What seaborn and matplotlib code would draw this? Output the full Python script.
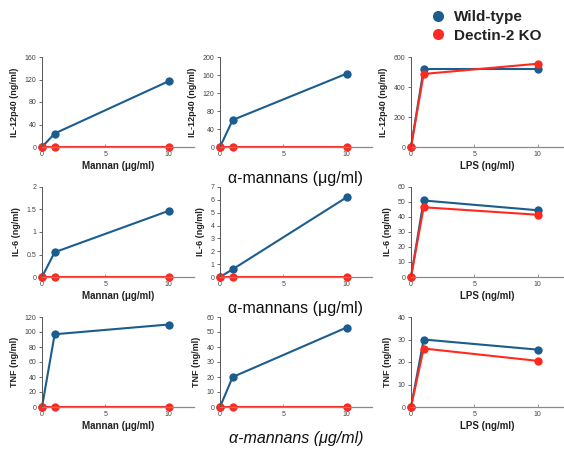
import matplotlib
matplotlib.use("Agg")
import matplotlib.pyplot as plt
from matplotlib.lines import Line2D
import seaborn as sns
import pandas as pd

sns.set_theme(style="ticks")
plt.rcParams["font.family"] = ["Liberation Sans", "DejaVu Sans"]

doses = [0, 1, 10]
genotypes = ["Wild-type", "Dectin-2 KO"]
colors = {"Wild-type": "#1b5d8e", "Dectin-2 KO": "#ff2a1f"}

# rows: IL-12p40, IL-6, TNF ; columns: Mannan, alpha-mannans, LPS
il12_mannan_wt = [0, 24, 117]
il12_mannan_ko = [0, 0, 0]
il12_amannan_wt = [0, 60, 163]
il12_amannan_ko = [0, 0, 0]
il12_lps_wt = [0, 520, 520]
il12_lps_ko = [0, 487, 555]

il6_mannan_wt = [0, 0.55, 1.47]
il6_mannan_ko = [0, 0, 0]
il6_amannan_wt = [0, 0.6, 6.2]
il6_amannan_ko = [0, 0, 0]
il6_lps_wt = [0, 51, 44.5]
il6_lps_ko = [0, 46.5, 41.5]

tnf_mannan_wt = [0, 97, 110]
tnf_mannan_ko = [0, 0, 0]
tnf_amannan_wt = [0, 20, 53]
tnf_amannan_ko = [0, 0, 0]
tnf_lps_wt = [0, 30, 25.5]
tnf_lps_ko = [0, 26, 20.5]

ylabels = ["IL-12p40 (ng/ml)", "IL-6 (ng/ml)", "TNF (ng/ml)"]
xlabels = ["Mannan (\u03bcg/ml)", "\u03b1-mannans (\u03bcg/ml)", "LPS (ng/ml)"]
x_ticks = [0, 5, 10]

yticks = [
    [[0, 40, 80, 120, 160], [0, 40, 80, 120, 160, 200], [0, 200, 400, 600]],
    [[0, 0.5, 1, 1.5, 2], [0, 1, 2, 3, 4, 5, 6, 7], [0, 10, 20, 30, 40, 50, 60]],
    [[0, 20, 40, 60, 80, 100, 120], [0, 10, 20, 30, 40, 50, 60], [0, 10, 20, 30, 40]],
]
ytick_labels = [
    [None, None, None],
    [["0", "0.5", "1", "1.5", "2"], None, None],
    [None, None, None],
]

series = [
    [(il12_mannan_wt, il12_mannan_ko), (il12_amannan_wt, il12_amannan_ko), (il12_lps_wt, il12_lps_ko)],
    [(il6_mannan_wt, il6_mannan_ko), (il6_amannan_wt, il6_amannan_ko), (il6_lps_wt, il6_lps_ko)],
    [(tnf_mannan_wt, tnf_mannan_ko), (tnf_amannan_wt, tnf_amannan_ko), (tnf_lps_wt, tnf_lps_ko)],
]

W, H = 564, 450
fig = plt.figure(figsize=(W / 100, H / 100), dpi=100)

col_left = [42, 220, 411]
row_top = [57, 187, 317]
ax_w, ax_h = 152, 90

for r in range(3):
    for c in range(3):
        left = col_left[c] / W
        bottom = 1 - (row_top[r] + ax_h) / H
        ax = fig.add_axes([left, bottom, ax_w / W, ax_h / H])
        wt, ko = series[r][c]
        df = pd.DataFrame({
            "dose": doses * 2,
            "value": list(wt) + list(ko),
            "genotype": ["Wild-type"] * 3 + ["Dectin-2 KO"] * 3,
        })
        sns.lineplot(data=df, x="dose", y="value", hue="genotype", hue_order=genotypes,
                     palette=colors, marker="o", markersize=6, markeredgewidth=0,
                     linewidth=1.5, errorbar=None, legend=False, ax=ax, clip_on=False)
        ax.set_xlim(0, 12)
        yt = yticks[r][c]
        ax.set_ylim(0, yt[-1])
        ax.set_yticks(yt)
        if ytick_labels[r][c] is not None:
            ax.set_yticklabels(ytick_labels[r][c])
        ax.set_xticks(x_ticks)
        sns.despine(ax=ax)
        ax.spines["left"].set_color("#555555")
        ax.spines["left"].set_linewidth(0.7)
        ax.spines["bottom"].set_color("#8a8a8a")
        ax.spines["bottom"].set_linewidth(0.9)
        ax.tick_params(axis="y", labelsize=5, colors="#555555", labelcolor="#444444",
                       length=2.5, width=0.6, pad=1.5)
        ax.tick_params(axis="x", labelsize=5, colors="#888888", labelcolor="#444444",
                       length=2, width=0.6, direction="in", pad=3)
        ax.set_ylabel(ylabels[r], fontsize=6.5, fontweight="bold", color="#222222", labelpad=4)
        ax.set_facecolor("white")
        if c == 1:
            style = "italic" if r == 2 else "normal"
            ax.set_xlabel(xlabels[c], fontsize=11.5, color="#111111", fontstyle=style, labelpad=9)
        else:
            ax.set_xlabel(xlabels[c], fontsize=7, fontweight="bold", color="#222222", labelpad=2)

handles = [Line2D([0], [0], marker="o", linestyle="none", markersize=8,
                  markerfacecolor=colors[g], markeredgewidth=0) for g in genotypes]
leg = fig.legend(handles, genotypes, loc="upper left", bbox_to_anchor=(0.738, 1.008),
                 frameon=False, prop={"size": 11, "weight": "bold"},
                 handlelength=1.0, handletextpad=0.55, labelspacing=0.3)
for t in leg.get_texts():
    t.set_color("#222222")

fig.savefig("out.png", dpi=100, facecolor="white")
